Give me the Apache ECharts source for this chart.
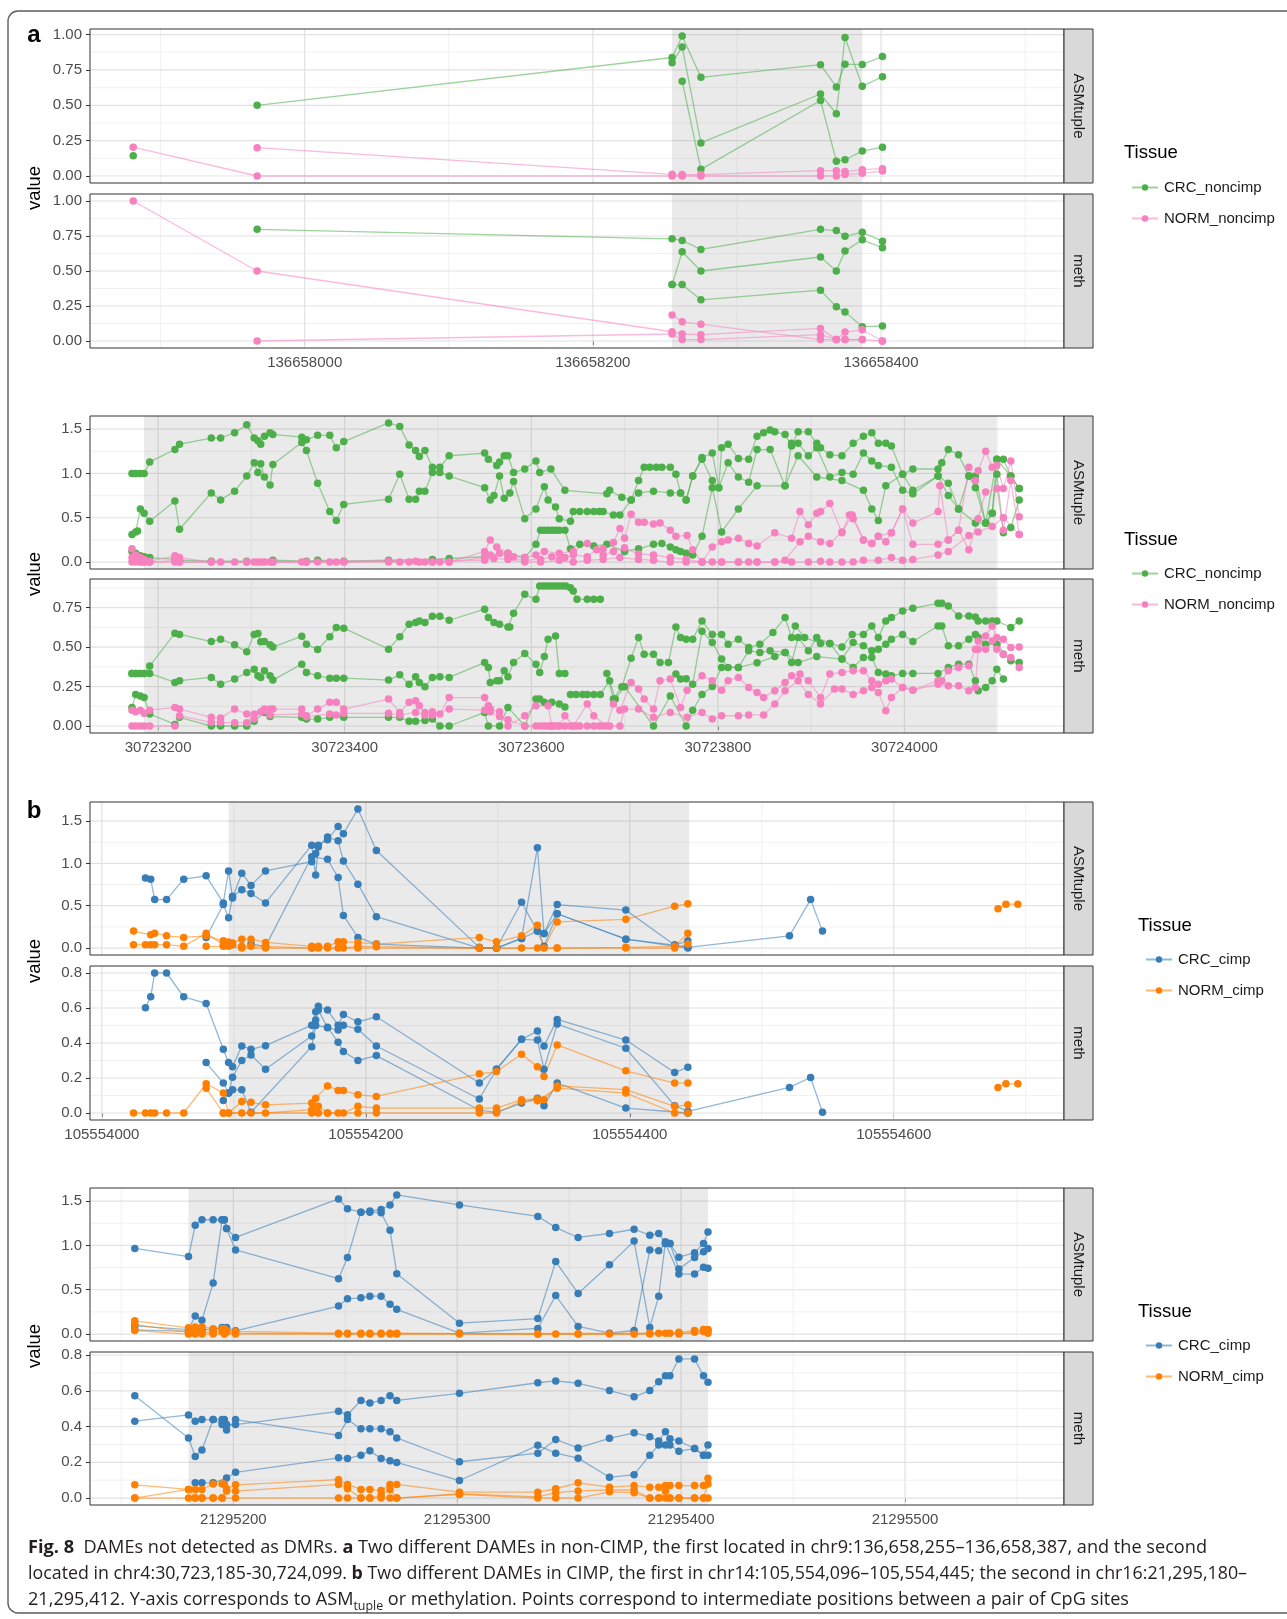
<!DOCTYPE html>
<html><head><meta charset="utf-8">
<script src="https://cdn.jsdelivr.net/npm/echarts@6/dist/echarts.min.js"></script>
<style>html,body{margin:0;padding:0;background:#fff}#c{width:1287px;height:1619px}</style>
</head><body><div id="c"></div>
<script>
// ---------------- DATA ----------------
const tissueNames = ['CRC_noncimp','NORM_noncimp','CRC_cimp','NORM_cimp'];
const facetNames = ['ASMtuple','meth'];

// Panel a1 (chr9)
const p1XTicks = [136658000, 136658200, 136658400];
const p1XRange = [136657851, 136658527];
const p1Shade = [136658255, 136658387];
const p1AsmTicks = [0, 0.25, 0.5, 0.75, 1.0];
const p1MethTicks = [0, 0.25, 0.5, 0.75, 1.0];
const p1AsmCRC = [
 [[136657881,0.143]],
 [[136657967,0.5],[136658255,0.838],[136658262,0.99],[136658275,0.698],[136658358,0.787],[136658369,0.63],[136658375,0.79],[136658387,0.789],[136658401,0.845]],
 [[136658255,0.80],[136658262,0.913],[136658275,0.234],[136658358,0.58],[136658369,0.44],[136658375,0.979],[136658387,0.635],[136658401,0.702]],
 [[136658262,0.67],[136658275,0.047],[136658358,0.534],[136658369,0.105],[136658375,0.115],[136658387,0.176],[136658401,0.204]]
];
const p1AsmNORM = [
 [[136657881,0.204],[136657967,0.0],[136658255,0.0],[136658262,0.0],[136658275,0.0],[136658358,0.0],[136658369,0.0],[136658375,0.01],[136658387,0.02],[136658401,0.035]],
 [[136657967,0.2],[136658255,0.012],[136658262,0.01],[136658275,0.01],[136658358,0.038],[136658369,0.038],[136658375,0.031],[136658387,0.045],[136658401,0.052]]
];
const p1MethCRC = [
 [[136657967,0.798],[136658255,0.73],[136658262,0.718],[136658275,0.654],[136658358,0.798],[136658369,0.789],[136658375,0.748],[136658387,0.777],[136658401,0.713]],
 [[136658255,0.403],[136658262,0.637],[136658275,0.5],[136658358,0.6],[136658369,0.5],[136658375,0.642],[136658387,0.723],[136658401,0.666]],
 [[136658255,0.403],[136658262,0.403],[136658275,0.294],[136658358,0.363],[136658369,0.244],[136658375,0.208],[136658387,0.102],[136658401,0.107]]
];
const p1MethNORM = [
 [[136657881,1.0],[136657967,0.5],[136658255,0.066],[136658262,0.05],[136658275,0.045],[136658358,0.09],[136658369,0.01],[136658375,0.064],[136658387,0.08],[136658401,0.0]],
 [[136657967,0.0],[136658255,0.05],[136658262,0.01],[136658275,0.01],[136658358,0.045],[136658369,0.01],[136658375,0.01],[136658387,0.01],[136658401,0.0]],
 [[136658255,0.185],[136658262,0.137],[136658275,0.12],[136658358,0.01],[136658369,0.01],[136658375,0.01],[136658387,0.01]]
];

// Panel a2 (chr4)
const p2XTicks = [30723200, 30723400, 30723600, 30723800, 30724000];
const p2XRange = [30723127, 30724171];
const p2Shade = [30723185, 30724099];
const p2AsmTicks = [0, 0.5, 1.0, 1.5];
const p2MethTicks = [0, 0.25, 0.5, 0.75];
const p2AsmCRC = [
 [[30723172,1.0],[30723176,1.0],[30723181,1.0],[30723185,1.0],[30723191,1.13],[30723218,1.27],[30723223,1.33],[30723257,1.40],[30723267,1.40],[30723282,1.46],[30723295,1.55],[30723303,1.40],[30723307,1.37],[30723310,1.33],[30723314,1.42],[30723320,1.46],[30723323,1.44],[30723354,1.41],[30723359,1.38],[30723371,1.43],[30723384,1.43],[30723391,1.29],[30723399,1.36],[30723447,1.57],[30723459,1.53],[30723469,1.32],[30723476,1.26],[30723480,1.19],[30723486,1.26],[30723494,1.07],[30723502,1.07],[30723512,1.20],[30723550,1.23],[30723554,1.16],[30723563,1.09],[30723566,1.13],[30723571,1.20],[30723575,1.20],[30723581,1.01],[30723593,1.05],[30723605,1.14],[30723609,1.01],[30723621,1.05],[30723636,0.81],[30723681,0.77],[30723684,0.81],[30723697,0.73],[30723707,0.70],[30723715,0.92],[30723721,1.07],[30723727,1.07],[30723734,1.07],[30723740,1.07],[30723749,1.07],[30723755,0.99],[30723760,0.78],[30723766,0.70],[30723773,0.97],[30723783,1.18],[30723794,1.23],[30723801,0.84],[30723804,1.29],[30723811,1.33],[30723822,1.17],[30723833,1.16],[30723842,1.42],[30723849,1.46],[30723856,1.49],[30723861,1.47],[30723872,1.44],[30723879,1.31],[30723886,1.47],[30723897,1.47],[30723906,1.34],[30723910,1.29],[30723920,1.21],[30723933,1.20],[30723945,1.34],[30723956,1.42],[30723965,1.46],[30723972,1.34],[30723980,1.34],[30723986,1.31],[30723998,0.99],[30724009,1.05],[30724036,1.05],[30724040,1.12],[30724047,1.27],[30724058,1.21],[30724069,0.97],[30724076,0.97],[30724087,0.44],[30724094,0.55],[30724099,1.16],[30724106,1.16],[30724114,0.97],[30724123,0.83]],
 [[30723172,0.31],[30723176,0.34],[30723178,0.35],[30723181,0.60],[30723185,0.55],[30723191,0.46],[30723218,0.69],[30723223,0.37],[30723257,0.78],[30723267,0.70],[30723282,0.80],[30723295,0.97],[30723303,1.12],[30723307,1.01],[30723310,1.11],[30723314,0.96],[30723320,0.87],[30723323,1.10],[30723354,1.35],[30723359,1.26],[30723371,0.89],[30723384,0.57],[30723391,0.47],[30723399,0.65],[30723447,0.71],[30723459,0.99],[30723469,0.71],[30723476,0.71],[30723480,0.80],[30723486,0.80],[30723494,1.01],[30723502,1.01],[30723512,0.97],[30723550,0.84],[30723556,0.70],[30723560,0.75],[30723566,0.97],[30723571,0.72],[30723577,0.78],[30723581,0.91],[30723593,0.49],[30723605,0.60],[30723614,0.85],[30723618,0.70],[30723626,0.62],[30723630,0.49],[30723642,0.46],[30723645,0.57],[30723652,0.57],[30723660,0.57],[30723667,0.57],[30723673,0.57],[30723677,0.57],[30723688,0.53],[30723695,0.53],[30723707,0.70],[30723715,0.78],[30723731,0.80],[30723749,0.78],[30723760,0.78],[30723766,0.70],[30723773,0.97],[30723783,1.16],[30723794,0.92],[30723801,0.84],[30723811,1.12],[30723822,0.96],[30723833,0.90],[30723842,1.27],[30723856,1.27],[30723872,0.86],[30723879,1.34],[30723886,1.34],[30723897,1.20],[30723906,1.29],[30723920,0.96],[30723933,1.01],[30723945,0.99],[30723956,1.23],[30723965,1.14],[30723972,1.09],[30723986,1.07],[30723998,0.81],[30724009,0.77],[30724036,0.97],[30724047,0.89],[30724058,0.60],[30724069,0.97],[30724076,0.84],[30724087,0.44],[30724094,0.55],[30724099,0.99],[30724106,0.33],[30724114,0.39],[30724123,0.70]],
 [[30723172,0.12],[30723176,0.10],[30723181,0.07],[30723185,0.06],[30723191,0.05],[30723218,0.03],[30723223,0.02],[30723257,0.01],[30723295,0.01],[30723323,0.02],[30723359,0.01],[30723371,0.02],[30723399,0.01],[30723447,0.02],[30723494,0.03],[30723512,0.04],[30723550,0.06],[30723575,0.10],[30723593,0.05],[30723605,0.20],[30723610,0.36],[30723614,0.36],[30723618,0.36],[30723622,0.36],[30723626,0.36],[30723630,0.36],[30723636,0.36],[30723642,0.15],[30723652,0.20],[30723667,0.18],[30723681,0.20],[30723700,0.12],[30723715,0.15],[30723731,0.20],[30723740,0.21],[30723749,0.17],[30723755,0.14],[30723760,0.12],[30723766,0.10],[30723773,0.08],[30723783,0.29],[30723794,0.84],[30723804,0.34],[30723822,0.60],[30723842,0.86],[30723872,0.86],[30723886,1.20],[30723906,0.96],[30723933,0.92],[30723956,0.81],[30723965,0.60],[30723972,0.47],[30723980,0.86],[30723998,0.99],[30724009,0.81],[30724036,0.97],[30724047,0.75],[30724058,0.60],[30724076,0.44],[30724087,0.44],[30724099,1.16],[30724114,0.97],[30724123,0.83]]
];
const p2AsmNORM = [
 [[30723172,0.15],[30723176,0.08],[30723181,0.05],[30723185,0.03],[30723191,0.01],[30723218,0.07],[30723223,0.05],[30723257,0.0],[30723267,0.0],[30723282,0.0],[30723295,0.0],[30723303,0.0],[30723307,0.0],[30723310,0.0],[30723314,0.0],[30723320,0.0],[30723323,0.0],[30723354,0.0],[30723359,0.0],[30723371,0.0],[30723384,0.0],[30723391,0.0],[30723399,0.0],[30723447,0.01],[30723459,0.0],[30723469,0.0],[30723476,0.01],[30723480,0.0],[30723486,0.0],[30723494,0.0],[30723502,0.0],[30723512,0.0],[30723550,0.12],[30723556,0.25],[30723563,0.17],[30723575,0.10],[30723581,0.06],[30723593,0.05],[30723605,0.08],[30723614,0.12],[30723630,0.10],[30723645,0.12],[30723660,0.21],[30723677,0.15],[30723688,0.22],[30723695,0.38],[30723700,0.27],[30723707,0.54],[30723715,0.45],[30723721,0.45],[30723731,0.43],[30723738,0.44],[30723749,0.36],[30723755,0.29],[30723767,0.30],[30723773,0.14],[30723783,0.0],[30723794,0.17],[30723804,0.23],[30723811,0.25],[30723822,0.27],[30723833,0.21],[30723842,0.18],[30723861,0.33],[30723879,0.27],[30723888,0.57],[30723897,0.42],[30723906,0.55],[30723910,0.57],[30723920,0.66],[30723933,0.33],[30723941,0.53],[30723945,0.49],[30723956,0.25],[30723965,0.21],[30723972,0.29],[30723980,0.23],[30723986,0.33],[30723998,0.60],[30724009,0.44],[30724036,0.57],[30724038,0.86],[30724047,0.25],[30724058,0.36],[30724069,1.07],[30724076,0.92],[30724079,1.03],[30724087,1.25],[30724094,1.07],[30724099,1.09],[30724106,0.83],[30724114,1.14],[30724123,0.51]],
 [[30723172,0.05],[30723176,0.02],[30723181,0.0],[30723185,0.0],[30723191,0.0],[30723218,0.02],[30723223,0.0],[30723257,0.0],[30723295,0.0],[30723323,0.0],[30723359,0.0],[30723399,0.0],[30723447,0.0],[30723494,0.0],[30723512,0.0],[30723550,0.05],[30723556,0.08],[30723566,0.10],[30723575,0.05],[30723593,0.02],[30723610,0.03],[30723622,0.06],[30723636,0.05],[30723645,0.08],[30723660,0.06],[30723670,0.14],[30723677,0.08],[30723688,0.12],[30723700,0.16],[30723715,0.09],[30723731,0.08],[30723749,0.05],[30723766,0.03],[30723783,0.0],[30723794,0.0],[30723804,0.0],[30723822,0.0],[30723833,0.0],[30723842,0.0],[30723861,0.0],[30723872,0.02],[30723888,0.23],[30723897,0.29],[30723910,0.23],[30723920,0.21],[30723933,0.34],[30723944,0.53],[30723956,0.25],[30723965,0.21],[30723972,0.29],[30723986,0.33],[30723998,0.60],[30724009,0.20],[30724036,0.20],[30724047,0.25],[30724058,0.36],[30724069,0.14],[30724079,0.49],[30724087,0.79],[30724099,0.83],[30724106,0.36],[30724114,0.92],[30724123,0.31]],
 [[30723172,0.0],[30723176,0.0],[30723181,0.0],[30723185,0.0],[30723191,0.0],[30723218,0.0],[30723223,0.0],[30723550,0.02],[30723560,0.04],[30723575,0.03],[30723593,0.0],[30723610,0.0],[30723630,0.02],[30723645,0.0],[30723660,0.02],[30723677,0.03],[30723695,0.05],[30723715,0.03],[30723731,0.02],[30723749,0.0],[30723766,0.0],[30723783,0.0],[30723804,0.0],[30723822,0.0],[30723842,0.0],[30723861,0.0],[30723879,0.0],[30723897,0.0],[30723910,0.01],[30723920,0.0],[30723933,0.0],[30723945,0.0],[30723956,0.02],[30723972,0.02],[30723986,0.05],[30723998,0.02],[30724009,0.03],[30724036,0.08],[30724047,0.12],[30724069,0.30],[30724079,0.34],[30724094,0.40],[30724106,0.50],[30724123,0.31]]
];
const p2MethCRC = [
 [[30723172,0.333],[30723176,0.333],[30723181,0.333],[30723185,0.333],[30723191,0.38],[30723218,0.588],[30723223,0.58],[30723257,0.535],[30723267,0.55],[30723282,0.514],[30723295,0.47],[30723303,0.58],[30723307,0.586],[30723310,0.533],[30723314,0.535],[30723320,0.514],[30723323,0.50],[30723354,0.569],[30723359,0.518],[30723371,0.485],[30723384,0.565],[30723391,0.624],[30723399,0.62],[30723447,0.487],[30723459,0.565],[30723469,0.645],[30723476,0.655],[30723480,0.666],[30723486,0.655],[30723494,0.695],[30723502,0.695],[30723512,0.67],[30723550,0.74],[30723554,0.687],[30723560,0.655],[30723566,0.645],[30723575,0.628],[30723577,0.628],[30723581,0.714],[30723593,0.834],[30723605,0.803],[30723609,0.887],[30723613,0.887],[30723617,0.887],[30723621,0.887],[30723625,0.887],[30723629,0.887],[30723633,0.887],[30723637,0.887],[30723642,0.876],[30723645,0.855],[30723649,0.803],[30723660,0.803],[30723667,0.803],[30723674,0.803]],
 [[30723172,0.333],[30723176,0.333],[30723181,0.333],[30723185,0.333],[30723191,0.333],[30723218,0.276],[30723223,0.287],[30723257,0.308],[30723267,0.265],[30723282,0.297],[30723295,0.339],[30723303,0.36],[30723307,0.318],[30723310,0.308],[30723314,0.35],[30723320,0.318],[30723323,0.291],[30723354,0.392],[30723359,0.339],[30723371,0.318],[30723384,0.303],[30723391,0.303],[30723399,0.303],[30723447,0.291],[30723459,0.324],[30723469,0.265],[30723476,0.312],[30723480,0.276],[30723486,0.249],[30723494,0.308],[30723502,0.312],[30723512,0.308],[30723550,0.402],[30723554,0.371],[30723556,0.276],[30723563,0.287],[30723566,0.287],[30723571,0.35],[30723575,0.312],[30723581,0.402],[30723593,0.459],[30723605,0.392],[30723609,0.339],[30723614,0.44],[30723618,0.55],[30723626,0.571],[30723630,0.333],[30723636,0.333]],
 [[30723172,0.118],[30723176,0.2],[30723181,0.19],[30723185,0.18],[30723191,0.076],[30723218,0.01],[30723223,0.055],[30723257,0.0],[30723267,0.0],[30723282,0.0],[30723295,0.0],[30723303,0.03],[30723314,0.086],[30723320,0.06],[30723354,0.055],[30723359,0.044],[30723371,0.044],[30723384,0.055],[30723399,0.055],[30723447,0.055],[30723459,0.055],[30723469,0.03],[30723476,0.03],[30723486,0.035],[30723494,0.044],[30723502,0.0],[30723512,0.0],[30723550,0.086],[30723554,0.0],[30723566,0.0],[30723575,0.118],[30723593,0.0],[30723605,0.171],[30723609,0.171],[30723614,0.15],[30723622,0.15],[30723630,0.14],[30723636,0.12]],
 [[30723681,0.333],[30723688,0.171],[30723697,0.249],[30723707,0.43],[30723715,0.56],[30723721,0.455],[30723731,0.455],[30723738,0.402],[30723747,0.402],[30723755,0.628],[30723760,0.56],[30723766,0.55],[30723773,0.55],[30723783,0.666],[30723794,0.58],[30723804,0.58],[30723811,0.518],[30723822,0.55],[30723833,0.497],[30723845,0.518],[30723859,0.592],[30723872,0.687],[30723879,0.56],[30723883,0.634],[30723893,0.56],[30723910,0.523],[30723920,0.523],[30723933,0.501],[30723944,0.58],[30723956,0.58],[30723965,0.634],[30723972,0.56],[30723980,0.666],[30723986,0.687],[30723998,0.729],[30724009,0.746],[30724036,0.777],[30724040,0.777],[30724047,0.761],[30724058,0.697],[30724069,0.697],[30724076,0.691],[30724079,0.666],[30724087,0.666],[30724094,0.666],[30724099,0.666],[30724114,0.624],[30724123,0.666]],
 [[30723755,0.329],[30723760,0.297],[30723766,0.30],[30723773,0.265],[30723783,0.60],[30723794,0.529],[30723804,0.424],[30723811,0.371],[30723822,0.371],[30723833,0.476],[30723845,0.466],[30723856,0.476],[30723872,0.466],[30723879,0.402],[30723886,0.56],[30723897,0.476],[30723906,0.56],[30723920,0.523],[30723933,0.424],[30723945,0.529],[30723956,0.508],[30723965,0.476],[30723972,0.487],[30723980,0.518],[30723986,0.55],[30723998,0.58],[30724009,0.535],[30724036,0.634],[30724040,0.634],[30724047,0.508],[30724058,0.508],[30724069,0.55],[30724076,0.58],[30724079,0.56],[30724087,0.518],[30724099,0.518],[30724106,0.455],[30724114,0.413],[30724123,0.402]],
 [[30723642,0.2],[30723648,0.2],[30723655,0.2],[30723660,0.2],[30723667,0.2],[30723674,0.2],[30723684,0.287],[30723690,0.171],[30723700,0.249],[30723731,0.0],[30723749,0.19],[30723766,0.0],[30723773,0.10],[30723783,0.2],[30723794,0.25],[30723804,0.371],[30723822,0.371],[30723842,0.40],[30723861,0.44],[30723872,0.466],[30723886,0.402],[30723906,0.44],[30723933,0.424],[30723945,0.371],[30723956,0.434],[30723965,0.434],[30723972,0.339],[30723980,0.329],[30723986,0.318],[30723998,0.333],[30724009,0.333],[30724036,0.333],[30724047,0.371],[30724058,0.392],[30724069,0.392],[30724076,0.287],[30724079,0.223],[30724087,0.244],[30724094,0.287],[30724099,0.36],[30724106,0.297]]
];
const p2MethNORM = [
 [[30723172,0.10],[30723176,0.09],[30723181,0.10],[30723185,0.08],[30723191,0.10],[30723218,0.118],[30723223,0.107],[30723257,0.055],[30723267,0.05],[30723282,0.107],[30723295,0.076],[30723303,0.044],[30723310,0.09],[30723314,0.107],[30723320,0.107],[30723323,0.107],[30723354,0.107],[30723359,0.065],[30723371,0.107],[30723384,0.15],[30723391,0.15],[30723399,0.107],[30723447,0.171],[30723459,0.086],[30723469,0.15],[30723476,0.16],[30723480,0.128],[30723486,0.086],[30723494,0.09],[30723502,0.076],[30723512,0.18],[30723550,0.18],[30723554,0.128],[30723556,0.107],[30723566,0.09],[30723575,0.0],[30723593,0.065],[30723605,0.128],[30723618,0.128],[30723622,0.0],[30723630,0.0],[30723636,0.065],[30723645,0.0],[30723660,0.139],[30723667,0.065],[30723681,0.0],[30723688,0.139],[30723695,0.10],[30723707,0.276],[30723715,0.234],[30723721,0.171],[30723731,0.107],[30723738,0.287],[30723749,0.297],[30723760,0.118],[30723767,0.227],[30723783,0.318],[30723794,0.287],[30723804,0.227],[30723811,0.287],[30723822,0.308],[30723833,0.244],[30723842,0.213],[30723849,0.181],[30723861,0.223],[30723872,0.276],[30723879,0.318],[30723888,0.329],[30723897,0.287],[30723910,0.181],[30723920,0.329],[30723933,0.339],[30723945,0.35],[30723956,0.35],[30723965,0.287],[30723972,0.265],[30723980,0.287],[30723986,0.297],[30723998,0.244],[30724009,0.227],[30724036,0.287],[30724040,0.287],[30724047,0.35],[30724058,0.371],[30724069,0.381],[30724076,0.487],[30724079,0.539],[30724087,0.487],[30724094,0.539],[30724099,0.487],[30724106,0.55],[30724114,0.497],[30724123,0.501]],
 [[30723172,0.0],[30723176,0.0],[30723181,0.0],[30723185,0.0],[30723191,0.0],[30723218,0.0],[30723223,0.065],[30723257,0.023],[30723267,0.023],[30723282,0.02],[30723295,0.02],[30723303,0.076],[30723314,0.097],[30723320,0.07],[30723354,0.076],[30723359,0.059],[30723384,0.076],[30723391,0.07],[30723399,0.08],[30723447,0.08],[30723459,0.07],[30723476,0.086],[30723486,0.07],[30723494,0.07],[30723512,0.107],[30723550,0.10],[30723556,0.09],[30723566,0.06],[30723575,0.04],[30723593,0.0],[30723605,0.0],[30723610,0.0],[30723614,0.0],[30723618,0.0],[30723622,0.0],[30723626,0.0],[30723630,0.0],[30723636,0.0],[30723642,0.0],[30723648,0.0],[30723652,0.0],[30723660,0.0],[30723667,0.0],[30723673,0.0],[30723677,0.0],[30723684,0.0],[30723695,0.0],[30723700,0.107],[30723715,0.107],[30723731,0.055],[30723749,0.086],[30723767,0.055],[30723783,0.086],[30723794,0.044],[30723804,0.065],[30723822,0.065],[30723833,0.07],[30723849,0.07],[30723861,0.139],[30723872,0.223],[30723886,0.287],[30723897,0.2],[30723910,0.139],[30723925,0.234],[30723933,0.234],[30723945,0.2],[30723956,0.223],[30723965,0.244],[30723972,0.213],[30723980,0.097],[30723986,0.181],[30723998,0.244],[30724009,0.227],[30724036,0.265],[30724047,0.255],[30724058,0.255],[30724069,0.223],[30724076,0.244],[30724079,0.487],[30724087,0.571],[30724094,0.634],[30724099,0.56],[30724106,0.455],[30724114,0.434],[30724123,0.371]]
];

// Panel b1 (chr14)
const p3XTicks = [105554000, 105554200, 105554400, 105554600];
const p3XRange = [105553991, 105554729];
const p3Shade = [105554096, 105554445];
const p3AsmTicks = [0, 0.5, 1.0, 1.5];
const p3MethTicks = [0, 0.2, 0.4, 0.6, 0.8];
const p3AsmCRC = [
 [[105554033,0.826],[105554037,0.814],[105554040,0.572],[105554049,0.572],[105554062,0.814],[105554079,0.853],[105554092,0.533],[105554096,0.911],[105554099,0.592],[105554106,0.884],[105554113,0.74],[105554124,0.911],[105554159,1.02],[105554162,1.118],[105554164,1.215],[105554171,1.28],[105554179,1.437],[105554183,1.351],[105554194,1.643],[105554208,1.153],[105554286,0.008],[105554299,0.0],[105554318,0.113],[105554330,1.184],[105554335,0.171],[105554345,0.514],[105554397,0.448],[105554434,0.035],[105554444,0.008],[105554521,0.144],[105554537,0.572],[105554546,0.2]],
 [[105554079,0.125],[105554092,0.514],[105554096,0.358],[105554099,0.611],[105554106,0.689],[105554113,0.643],[105554124,0.533],[105554159,1.215],[105554162,0.864],[105554164,1.195],[105554171,1.312],[105554179,1.266],[105554183,1.028],[105554194,0.755],[105554208,0.37],[105554286,0.0],[105554299,0.0],[105554318,0.541],[105554330,0.2],[105554335,0.02],[105554345,0.405],[105554397,0.105],[105554434,0.035],[105554444,0.086]],
 [[105554113,0.05],[105554124,0.02],[105554159,1.079],[105554171,1.048],[105554179,0.833],[105554183,0.385],[105554194,0.125],[105554208,0.047],[105554286,0.0],[105554299,0.0],[105554318,0.113],[105554330,0.2],[105554335,0.171],[105554345,0.405],[105554397,0.105],[105554444,0.0]]
];
const p3AsmNORM = [
 [[105554024,0.2],[105554037,0.156],[105554040,0.175],[105554049,0.144],[105554062,0.125],[105554079,0.144],[105554092,0.086],[105554096,0.07],[105554099,0.06],[105554106,0.105],[105554113,0.105],[105554124,0.066],[105554159,0.02],[105554164,0.02],[105554171,0.02],[105554179,0.074],[105554183,0.074],[105554194,0.066],[105554208,0.047],[105554286,0.125],[105554299,0.074],[105554318,0.144],[105554330,0.269],[105554335,0.0],[105554345,0.308],[105554397,0.339],[105554434,0.494],[105554444,0.522]],
 [[105554024,0.04],[105554033,0.04],[105554037,0.04],[105554040,0.04],[105554049,0.04],[105554062,0.02],[105554079,0.175],[105554092,0.04],[105554096,0.04],[105554099,0.04],[105554106,0.02],[105554113,0.02],[105554124,0.02],[105554159,0.0],[105554164,0.0],[105554171,0.0],[105554179,0.0],[105554183,0.0],[105554194,0.02],[105554208,0.016],[105554286,0.0],[105554299,0.0],[105554318,0.0],[105554330,0.0],[105554345,0.0],[105554397,0.008],[105554434,0.02],[105554444,0.175]],
 [[105554079,0.02],[105554092,0.02],[105554096,0.02],[105554106,0.0],[105554124,0.0],[105554159,0.0],[105554194,0.0],[105554286,0.0],[105554345,0.0],[105554397,0.0],[105554434,0.0],[105554444,0.047]],
 [[105554679,0.463],[105554685,0.518],[105554694,0.518]]
];
const p3MethCRC = [
 [[105554033,0.601],[105554037,0.664],[105554040,0.80],[105554049,0.80],[105554062,0.664],[105554079,0.626],[105554092,0.364],[105554096,0.288],[105554099,0.265],[105554106,0.383],[105554113,0.364],[105554124,0.385],[105554159,0.502],[105554162,0.578],[105554164,0.61],[105554171,0.588],[105554179,0.502],[105554183,0.563],[105554194,0.521],[105554208,0.55],[105554286,0.171],[105554299,0.25],[105554318,0.421],[105554330,0.468],[105554335,0.383],[105554345,0.535],[105554397,0.417],[105554434,0.231],[105554444,0.262]],
 [[105554079,0.288],[105554092,0.171],[105554096,0.114],[105554099,0.205],[105554106,0.30],[105554113,0.332],[105554124,0.25],[105554159,0.44],[105554162,0.531],[105554164,0.588],[105554171,0.487],[105554179,0.474],[105554183,0.502],[105554194,0.478],[105554208,0.383],[105554286,0.08],[105554299,0.25],[105554318,0.421],[105554330,0.417],[105554335,0.25],[105554345,0.508],[105554397,0.37],[105554434,0.042],[105554444,0.009],[105554521,0.146],[105554537,0.203],[105554546,0.004]],
 [[105554092,0.072],[105554096,0.114],[105554099,0.133],[105554106,0.133],[105554113,0.004],[105554159,0.379],[105554162,0.50],[105554171,0.49],[105554179,0.404],[105554183,0.351],[105554194,0.30],[105554208,0.328],[105554286,0.017],[105554299,0.004],[105554318,0.057],[105554330,0.085],[105554335,0.042],[105554345,0.171],[105554397,0.028],[105554444,0.0]]
];
const p3MethNORM = [
 [[105554024,0.0],[105554033,0.0],[105554037,0.0],[105554040,0.0],[105554049,0.0],[105554062,0.0],[105554079,0.167],[105554092,0.114],[105554096,0.0],[105554106,0.066],[105554113,0.061],[105554124,0.047],[105554159,0.057],[105554162,0.085],[105554171,0.155],[105554179,0.129],[105554183,0.129],[105554194,0.104],[105554208,0.095],[105554286,0.224],[105554299,0.237],[105554318,0.336],[105554330,0.265],[105554335,0.209],[105554345,0.389],[105554397,0.241],[105554434,0.171],[105554444,0.171]],
 [[105554079,0.142],[105554092,0.0],[105554096,0.0],[105554106,0.0],[105554113,0.0],[105554124,0.0],[105554159,0.019],[105554162,0.038],[105554164,0.038],[105554171,0.0],[105554179,0.0],[105554183,0.0],[105554194,0.038],[105554208,0.028],[105554286,0.028],[105554299,0.028],[105554318,0.076],[105554330,0.08],[105554335,0.076],[105554345,0.155],[105554397,0.133],[105554434,0.038],[105554444,0.047]],
 [[105554092,0.0],[105554159,0.0],[105554164,0.0],[105554171,0.0],[105554194,0.0],[105554208,0.0],[105554286,0.0],[105554299,0.0],[105554318,0.066],[105554330,0.07],[105554345,0.142],[105554397,0.114],[105554434,0.0],[105554444,0.0]],
 [[105554679,0.146],[105554685,0.167],[105554694,0.167]]
];

// Panel b2 (chr16)
const p4XTicks = [21295200, 21295300, 21295400, 21295500];
const p4XRange = [21295136, 21295571];
const p4Shade = [21295180, 21295412];
const p4AsmTicks = [0, 0.5, 1.0, 1.5];
const p4MethTicks = [0, 0.2, 0.4, 0.6, 0.8];
const p4AsmCRC = [
 [[21295156,0.967],[21295180,0.874],[21295183,1.228],[21295186,1.29],[21295191,1.29],[21295195,1.29],[21295196,1.29],[21295197,1.19],[21295201,1.09],[21295247,1.525],[21295251,1.414],[21295257,1.376],[21295261,1.388],[21295266,1.406],[21295270,1.458],[21295273,1.57],[21295301,1.458],[21295336,1.328],[21295344,1.202],[21295354,1.09],[21295368,1.135],[21295379,1.183],[21295386,1.116],[21295390,1.135],[21295393,1.023],[21295395,1.023],[21295399,0.867],[21295406,0.919],[21295410,1.023],[21295412,1.153]],
 [[21295156,0.093],[21295180,0.05],[21295183,0.205],[21295186,0.156],[21295191,0.577],[21295195,1.29],[21295196,1.29],[21295197,1.19],[21295201,0.949],[21295247,0.625],[21295251,0.863],[21295257,1.376],[21295261,1.376],[21295266,1.369],[21295270,1.172],[21295273,0.681],[21295301,0.123],[21295336,0.175],[21295344,0.818],[21295354,0.458],[21295368,0.781],[21295379,1.049],[21295386,0.074],[21295390,0.428],[21295393,1.042],[21295395,1.023],[21295399,0.733],[21295406,0.863],[21295410,0.93],[21295412,0.967]],
 [[21295156,0.048],[21295180,0.03],[21295183,0.05],[21295186,0.05],[21295191,0.05],[21295195,0.074],[21295197,0.074],[21295201,0.037],[21295247,0.316],[21295251,0.398],[21295257,0.409],[21295261,0.428],[21295266,0.428],[21295270,0.335],[21295273,0.279],[21295301,0.01],[21295336,0.063],[21295344,0.435],[21295354,0.086],[21295368,0.01],[21295379,0.04],[21295386,0.949],[21295390,0.941],[21295393,1.023],[21295399,0.677],[21295406,0.677],[21295410,0.755],[21295412,0.744]]
];
const p4AsmNORM = [
 [[21295156,0.149],[21295180,0.07],[21295183,0.08],[21295186,0.08],[21295191,0.06],[21295195,0.06],[21295196,0.06],[21295197,0.04],[21295201,0.03],[21295247,0.01],[21295251,0.01],[21295257,0.01],[21295261,0.01],[21295266,0.01],[21295270,0.01],[21295273,0.01],[21295301,0.005],[21295336,0.0],[21295344,0.0],[21295354,0.0],[21295368,0.0],[21295379,0.0],[21295386,0.01],[21295390,0.01],[21295393,0.01],[21295395,0.01],[21295399,0.02],[21295406,0.04],[21295410,0.05],[21295412,0.05]],
 [[21295156,0.11],[21295180,0.02],[21295183,0.03],[21295186,0.02],[21295191,0.02],[21295195,0.03],[21295197,0.02],[21295201,0.01],[21295247,0.0],[21295251,0.0],[21295257,0.0],[21295261,0.0],[21295266,0.0],[21295270,0.0],[21295273,0.0],[21295301,0.0],[21295336,0.0],[21295354,0.0],[21295386,0.0],[21295399,0.0],[21295406,0.02],[21295410,0.03],[21295412,0.04]],
 [[21295156,0.04],[21295180,0.0],[21295183,0.0],[21295186,0.0],[21295191,0.0],[21295196,0.0],[21295201,0.0],[21295412,0.01]]
];
const p4MethCRC = [
 [[21295156,0.572],[21295180,0.336],[21295183,0.232],[21295186,0.269],[21295191,0.439],[21295195,0.411],[21295197,0.38],[21295201,0.439],[21295247,0.35],[21295251,0.439],[21295257,0.387],[21295261,0.387],[21295266,0.387],[21295270,0.371],[21295273,0.336],[21295301,0.203],[21295336,0.251],[21295344,0.328],[21295354,0.28],[21295368,0.334],[21295379,0.365],[21295386,0.343],[21295390,0.319],[21295393,0.371],[21295395,0.332],[21295399,0.319],[21295406,0.277],[21295410,0.24],[21295412,0.297]],
 [[21295156,0.43],[21295180,0.465],[21295183,0.43],[21295186,0.439],[21295191,0.439],[21295195,0.439],[21295196,0.439],[21295197,0.411],[21295201,0.411],[21295247,0.485],[21295251,0.466],[21295257,0.546],[21295261,0.531],[21295266,0.546],[21295270,0.572],[21295273,0.546],[21295301,0.586],[21295336,0.645],[21295344,0.655],[21295354,0.642],[21295368,0.601],[21295379,0.566],[21295386,0.601],[21295390,0.651],[21295393,0.684],[21295395,0.684],[21295399,0.778],[21295406,0.778],[21295410,0.684],[21295412,0.647]],
 [[21295183,0.085],[21295186,0.085],[21295191,0.085],[21295197,0.112],[21295201,0.144],[21295247,0.225],[21295251,0.221],[21295257,0.24],[21295261,0.264],[21295266,0.221],[21295270,0.208],[21295273,0.199],[21295301,0.098],[21295336,0.295],[21295344,0.251],[21295354,0.223],[21295368,0.116],[21295379,0.131],[21295386,0.24],[21295390,0.297],[21295393,0.297],[21295395,0.297],[21295399,0.262],[21295406,0.277],[21295410,0.24],[21295412,0.24]]
];
const p4MethNORM = [
 [[21295156,0.074],[21295180,0.048],[21295183,0.048],[21295186,0.048],[21295191,0.079],[21295195,0.079],[21295196,0.079],[21295197,0.052],[21295201,0.074],[21295247,0.103],[21295251,0.076],[21295257,0.048],[21295261,0.048],[21295266,0.042],[21295270,0.076],[21295273,0.076],[21295301,0.033],[21295336,0.033],[21295344,0.052],[21295354,0.085],[21295368,0.061],[21295379,0.07],[21295386,0.061],[21295390,0.061],[21295393,0.07],[21295395,0.07],[21295399,0.07],[21295406,0.07],[21295410,0.07],[21295412,0.111]],
 [[21295156,0.0],[21295180,0.048],[21295183,0.0],[21295186,0.0],[21295191,0.0],[21295195,0.0],[21295197,0.039],[21295201,0.039],[21295247,0.076],[21295251,0.052],[21295257,0.0],[21295261,0.0],[21295266,0.015],[21295270,0.048],[21295273,0.0],[21295301,0.024],[21295336,0.006],[21295344,0.03],[21295354,0.04],[21295368,0.045],[21295379,0.045],[21295386,0.0],[21295390,0.0],[21295393,0.04],[21295395,0.0],[21295399,0.0],[21295406,0.0],[21295410,0.0],[21295412,0.079]],
 [[21295156,0.0],[21295180,0.0],[21295183,0.0],[21295186,0.0],[21295191,0.0],[21295195,0.0],[21295201,0.0],[21295247,0.0],[21295251,0.0],[21295257,0.0],[21295261,0.0],[21295266,0.0],[21295270,0.0],[21295273,0.0],[21295301,0.02],[21295336,0.0],[21295344,0.0],[21295354,0.0],[21295368,0.035],[21295379,0.03],[21295386,0.0],[21295390,0.0],[21295393,0.0],[21295395,0.0],[21295399,0.0],[21295406,0.0],[21295410,0.0],[21295412,0.0]]
];

const captionLines = [
 [{t:'Fig. 8',b:1},{t:'  DAMEs not detected as DMRs. '},{t:'a',b:1},{t:' Two different DAMEs in non-CIMP, the first located in chr9:136,658,255\u2013136,658,387, and the second'}],
 [{t:'located in chr4:30,723,185-30,724,099. '},{t:'b',b:1},{t:' Two different DAMEs in CIMP, the first in chr14:105,554,096\u2013105,554,445; the second in chr16:21,295,180\u2013'}],
 [{t:'21,295,412. Y-axis corresponds to ASM'},{t:'tuple',sub:1},{t:' or methylation. Points correspond to intermediate positions between a pair of CpG sites'}]
];

// ---------------- LAYOUT / STYLE ----------------
const FONT = "'Liberation Sans', Arimo, Arial, Helvetica, sans-serif";
const COLORS = {CRC_noncimp:'#4DAF4A', NORM_noncimp:'#F781BF', CRC_cimp:'#377EB8', NORM_cimp:'#FF7F00'};
const PL = {left: 90, width: 974, stripW: 29};
const panels = [
 {crc:'CRC_noncimp', norm:'NORM_noncimp', xr:p1XRange, xt:p1XTicks, shade:p1Shade, letter:'a', letterY:35,
  facets:[{top:29,h:154,crc:p1AsmCRC,norm:p1AsmNORM,yt:p1AsmTicks,dec:2},{top:194,h:154,crc:p1MethCRC,norm:p1MethNORM,yt:p1MethTicks,dec:2}],
  leg:{titleX:1124,titleY:153,left:1126,first:187}, valueY:188},
 {crc:'CRC_noncimp', norm:'NORM_noncimp', xr:p2XRange, xt:p2XTicks, shade:p2Shade,
  facets:[{top:416,h:153,crc:p2AsmCRC,norm:p2AsmNORM,yt:p2AsmTicks,dec:1},{top:579,h:154,crc:p2MethCRC,norm:p2MethNORM,yt:p2MethTicks,dec:2}],
  leg:{titleX:1124,titleY:540,left:1126,first:573}, valueY:574},
 {crc:'CRC_cimp', norm:'NORM_cimp', xr:p3XRange, xt:p3XTicks, shade:p3Shade, letter:'b', letterY:811,
  facets:[{top:802,h:153,crc:p3AsmCRC,norm:p3AsmNORM,yt:p3AsmTicks,dec:1},{top:966,h:154,crc:p3MethCRC,norm:p3MethNORM,yt:p3MethTicks,dec:1}],
  leg:{titleX:1138,titleY:926,left:1140,first:959}, valueY:961},
 {crc:'CRC_cimp', norm:'NORM_cimp', xr:p4XRange, xt:p4XTicks, shade:p4Shade,
  facets:[{top:1188,h:153,crc:p4AsmCRC,norm:p4AsmNORM,yt:p4AsmTicks,dec:1},{top:1352,h:153,crc:p4MethCRC,norm:p4MethNORM,yt:p4MethTicks,dec:1}],
  leg:{titleX:1138,titleY:1312,left:1140,first:1345}, valueY:1346}
];

function dataRange(groups){
  let mn=Infinity,mx=-Infinity;
  groups.forEach(g=>g.forEach(line=>line.forEach(p=>{mn=Math.min(mn,p[1]);mx=Math.max(mx,p[1]);})));
  const pad=(mx-mn)*0.05; return [mn-pad,mx+pad];
}
function minorOf(ticks, r){
  const step=ticks[1]-ticks[0], out=[];
  for(let v=ticks[0]-step*1.5; v<r[1]; v+=step){ const m=Math.round((v)*1e9)/1e9; if(m>r[0]&&m<r[1]) out.push(m); }
  return out.filter(v=>!ticks.some(t=>Math.abs(t-v)<1e-9));
}
function lineData(xs, ys, xr, yr){
  const d=[];
  xs.forEach(v=>{d.push([v,yr[0]],[v,yr[1]],[v,'-']);});
  ys.forEach(v=>{d.push([xr[0],v],[xr[1],v],[xr[1],'-']);});
  return d;
}

const grids=[], xAxes=[], yAxes=[], series=[], graphics=[], legends=[];
panels.forEach((p,pi)=>{
  p.facets.forEach((f,fi)=>{
    const gi=grids.length, isMeth = fi===1;
    const yr=dataRange([f.crc,f.norm]);
    grids.push({left:PL.left, top:f.top, width:PL.width, height:f.h, show:false});
    xAxes.push({type:'value', gridIndex:gi, min:p.xr[0], max:p.xr[1], axisLine:{show:false}, splitLine:{show:false},
      axisTick:{show:isMeth, length:4, lineStyle:{color:'#333',width:1}, customValues:p.xt},
      axisLabel:{show:isMeth, customValues:p.xt, formatter:v=>String(Math.round(v)), fontSize:15, color:'#4d4d4d', fontFamily:FONT, margin:7}});
    yAxes.push({type:'value', gridIndex:gi, min:yr[0], max:yr[1], axisLine:{show:false}, splitLine:{show:false},
      axisTick:{show:true, length:4, lineStyle:{color:'#333',width:1}, customValues:f.yt},
      axisLabel:{customValues:f.yt, formatter:v=>Number(v).toFixed(f.dec), fontSize:15, color:'#4d4d4d', fontFamily:FONT, margin:8}});
    const xMin=minorOf(p.xt,p.xr), yMin=minorOf(f.yt,yr);
    series.push({type:'line', xAxisIndex:gi, yAxisIndex:gi, data:lineData(xMin,yMin,p.xr,yr), showSymbol:false, symbol:'none', silent:true, z:0.4,
      lineStyle:{color:'#efefef', width:0.9}, connectNulls:false, animation:false});
    series.push({type:'line', xAxisIndex:gi, yAxisIndex:gi, data:lineData(p.xt,f.yt,p.xr,yr), showSymbol:false, symbol:'none', silent:true, z:0.5,
      lineStyle:{color:'#e2e2e2', width:1.2}, connectNulls:false, animation:false,
      markArea:{silent:true, itemStyle:{color:'rgba(127,127,127,0.16)'}, data:[[{xAxis:p.shade[0]},{xAxis:p.shade[1]}]]}});
    [[f.crc,p.crc],[f.norm,p.norm]].forEach(([lines,name])=>{
      lines.forEach(l=>series.push({type:'line', name, xAxisIndex:gi, yAxisIndex:gi, data:l, symbol:'circle', symbolSize:7.5, showSymbol:true,
        itemStyle:{color:COLORS[name]}, lineStyle:{color:COLORS[name], opacity:0.55, width:1.3}, z:3, silent:true, animation:false, emphasis:{disabled:true}}));
    });
    graphics.push({type:'rect', z:50, silent:true, shape:{x:PL.left, y:f.top, width:PL.width, height:f.h}, style:{fill:'none', stroke:'#333', lineWidth:1}});
    graphics.push({type:'rect', z:50, silent:true, shape:{x:PL.left+PL.width, y:f.top, width:PL.stripW, height:f.h}, style:{fill:'#d9d9d9', stroke:'#333', lineWidth:1}});
    graphics.push({type:'text', z:51, silent:true, x:PL.left+PL.width+PL.stripW/2, y:f.top+f.h/2, rotation:-Math.PI/2,
      style:{text:facetNames[fi], font:'15px '+FONT, fill:'#1a1a1a', align:'center', verticalAlign:'middle'}});
  });
  graphics.push({type:'text', z:51, silent:true, x:35, y:p.valueY, rotation:Math.PI/2,
    style:{text:'value', font:'18.5px '+FONT, fill:'#000', align:'center', verticalAlign:'middle'}});
  if(p.letter) graphics.push({type:'text', z:51, silent:true, x:34, y:p.letterY,
    style:{text:p.letter, font:'bold 24px '+FONT, fill:'#000', align:'center', verticalAlign:'middle'}});
  graphics.push({type:'text', z:51, silent:true, x:p.leg.titleX, y:p.leg.titleY,
    style:{text:'Tissue', font:'18.5px '+FONT, fill:'#000', align:'left', verticalAlign:'middle'}});
  legends.push({orient:'vertical', left:p.leg.left, top:p.leg.first-12, itemWidth:26, itemHeight:8, itemGap:16, selectedMode:false,
    data:[p.crc,p.norm], textStyle:{fontSize:15, color:'#1a1a1a', fontFamily:FONT, padding:[0,0,0,1]}});
});

graphics.push({type:'rect', z:40, silent:true, shape:{x:8, y:11, width:1310, height:1602, r:10}, style:{fill:'none', stroke:'#5c5c5c', lineWidth:1.4}});

const CAP_FONT = "'Open Sans', 'Noto Sans', sans-serif";
const CAP_SIZE = 17.5;
const capTargets = [1207, 1247, 1129];
const capYs = [1548, 1574, 1600];
const ctx = document.createElement('canvas').getContext('2d');
captionLines.forEach((segs,i)=>{
  let w=0, txt='';
  segs.forEach(s=>{
    const sz = s.sub?12:CAP_SIZE;
    ctx.font = (s.b?'bold ':'')+sz+'px '+CAP_FONT;
    w += ctx.measureText(s.t).width;
    txt += s.b ? '{b|'+s.t+'}' : s.sub ? '{s|'+s.t+'}' : '{n|'+s.t+'}';
  });
  const sx = (capTargets[i]-28)/w;
  graphics.push({type:'text', z:51, silent:true, x:28, y:capYs[i], scaleX:sx,
    style:{text:txt, align:'left', verticalAlign:'middle', fill:'#231f20',
      rich:{n:{fontSize:CAP_SIZE, fontFamily:CAP_FONT, lineHeight:26, fill:'#231f20'},
            b:{fontSize:CAP_SIZE, fontFamily:CAP_FONT, fontWeight:'bold', lineHeight:26, fill:'#231f20'},
            s:{fontSize:12, fontFamily:CAP_FONT, lineHeight:12, verticalAlign:'bottom', fill:'#231f20'}}}});
});

const chart = echarts.init(document.getElementById('c'), null, {renderer:'canvas'});
chart.setOption({animation:false, backgroundColor:'#fff', grid:grids, xAxis:xAxes, yAxis:yAxes, series, legend:legends, graphic:graphics, tooltip:{show:false}});
</script></body></html>
